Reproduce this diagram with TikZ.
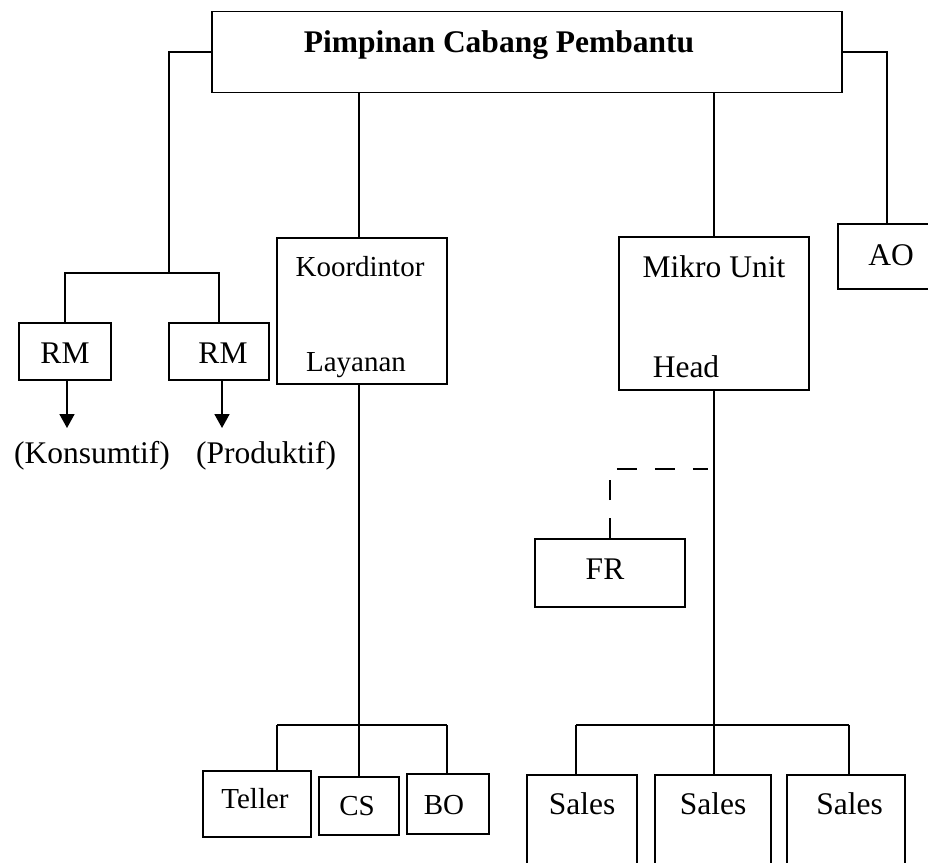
\documentclass[tikz,border=0pt]{standalone}
\usepackage{fontspec}
\setmainfont{Liberation Serif}
\usepackage{tikz}
\usetikzlibrary{arrows.meta,positioning}

\begin{document}
\begin{tikzpicture}[
  x=1pt, y=-1pt,
  box/.style={rectangle,draw=black,line width=1.9pt,inner sep=0pt},
  txt/.style={anchor=base,inner sep=0pt,font=\fontsize{31.5}{36}\selectfont},
  small/.style={anchor=base,inner sep=0pt,font=\fontsize{29}{34}\selectfont},
  line/.style={line width=1.8pt},
  dashline/.style={line width=1.8pt,dash pattern=on 20pt off 18pt},
  arrow/.style={-{Triangle[length=14pt,width=15pt]},line width=1.8pt}
]
  \useasboundingbox (0,0) rectangle (928,862);
  \clip (0,0) rectangle (928,862);

  % top
  \node[box,minimum width=630pt,minimum height=81pt] (top) at (527,52) {};
  \node[txt,font=\fontsize{31.5}{36}\selectfont\bfseries] (toptxt) at (499,52) {Pimpinan Cabang Pembantu};

  % RM
  \node[box,minimum width=92pt,minimum height=57pt] (rmA) at (65,351.5) {};
  \node[box,minimum width=100pt,minimum height=57pt] (rmB) at (219,351.5) {};
  \node[txt] (rmAtxt) at (65,363) {RM};
  \node[txt] (rmBtxt) at (223,363) {RM};
  \node[txt] (kons) at (92,463) {(Konsumtif)};
  \node[txt] (prod) at (266,463) {(Produktif)};

  % koordinator
  \node[box,minimum width=170pt,minimum height=146pt] (koord) at (362,311) {};
  \node[small] (koordA) at (360,276) {Koordintor};
  \node[small] (koordB) at (356,371) {Layanan};

  % mikro
  \node[box,minimum width=190pt,minimum height=153pt] (mikro) at (714,313.5) {};
  \node[txt] (mikroA) at (714,277) {Mikro Unit};
  \node[txt] (mikroB) at (686,377) {Head};

  % AO
  \node[box,minimum width=152pt,minimum height=65pt] (ao) at (914,256.5) {};
  \node[txt] (aotxt) at (891,265) {AO};

  % FR
  \node[box,minimum width=150pt,minimum height=68pt] (fr) at (610,573) {};
  \node[txt] (frtxt) at (605,579) {FR};

  % layanan
  \node[box,minimum width=108pt,minimum height=66pt] (teller) at (257,804) {};
  \node[box,minimum width=80pt,minimum height=58pt] (cs) at (359,806) {};
  \node[box,minimum width=82pt,minimum height=60pt] (bo) at (448,804) {};
  \node[small] (tellertxt) at (255,808) {Teller};
  \node[small] (cstxt) at (357,815) {CS};
  \node[small] (botxt) at (444,814) {BO};

  % sales
  \node[box,minimum width=110pt,minimum height=150pt] (s1) at (582,850) {};
  \node[box,minimum width=116pt,minimum height=150pt] (s2) at (713,850) {};
  \node[box,minimum width=118pt,minimum height=150pt] (s3) at (846,850) {};
  \node[txt] (s1txt) at (582,814) {Sales};
  \node[txt] (s2txt) at (713,814) {Sales};
  \node[txt] (s3txt) at (849.5,814) {Sales};

  \coordinate (rmbus) at (169,273);
  \coordinate (kA) at (67,428);
  \coordinate (kB) at (222,428);
  \coordinate (kbus) at (359,725);
  \coordinate (tl) at (277,725);
  \coordinate (tr) at (447,725);
  \coordinate (sbus) at (714,725);
  \coordinate (sl) at (576,725);
  \coordinate (sr) at (849,725);
  \coordinate (frj) at (708,469);
  \coordinate (aoj) at (887,52);

  \draw[line] (top.west) -| (rmbus);
  \draw[line] (rmA.north) |- (rmbus) -| (rmB.north);
  \draw[arrow] (rmA.south -| kA) -- (kA);
  \draw[arrow] (rmB.south -| kB) -- (kB);

  \draw[line] (top.south -| kbus) -- (koord.north -| kbus);
  \draw[line] (koord.south -| kbus) -- (kbus);
  \draw[line] (tl) -- (tr);
  \draw[line] (tl) -- (tl |- teller.north);
  \draw[line] (kbus) -- (cs.north);
  \draw[line] (tr) -- (tr |- bo.north);

  \draw[line] (top.south -| mikro.north) -- (mikro.north);
  \draw[line] (mikro.south) -- (sbus);
  \draw[line] (sl) -- (sr);
  \draw[line] (sl) -- (sl |- s1.north);
  \draw[line] (sbus) -- (sbus |- s2.north);
  \draw[line] (sr) -- (sr |- s3.north);
  \draw[dashline] (fr.north) |- (frj);

  \draw[line] (top.east) -- (aoj) -- (aoj |- ao.north);
\end{tikzpicture}
\end{document}
